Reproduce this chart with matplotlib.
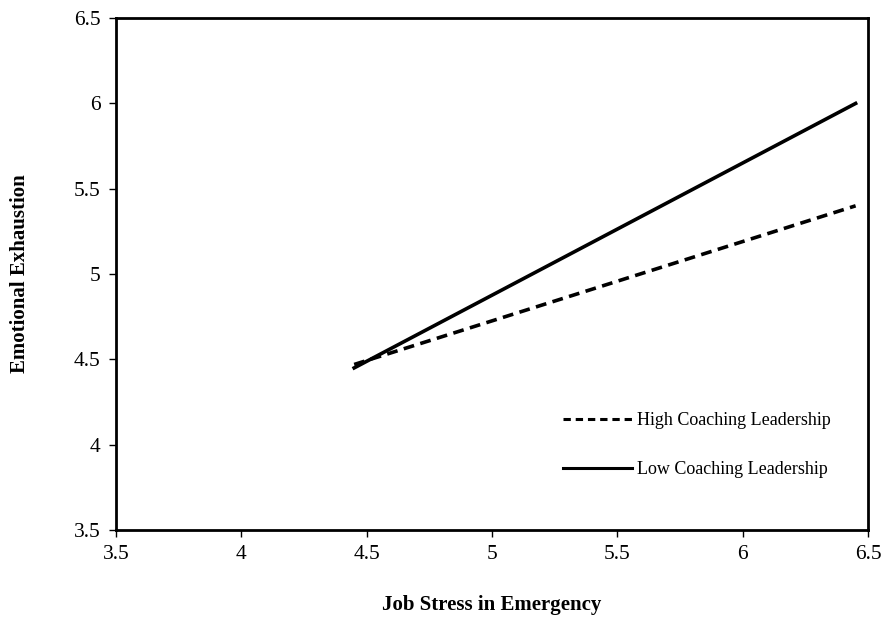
import matplotlib.pyplot as plt

plt.rcParams['font.family'] = ['Liberation Serif', 'DejaVu Serif']

x_vals = [4.45, 6.45]
high_coaching = [4.47, 5.40]
low_coaching = [4.45, 6.00]

x_ticks = [3.5, 4, 4.5, 5, 5.5, 6, 6.5]
y_ticks = [3.5, 4, 4.5, 5, 5.5, 6, 6.5]

fig = plt.figure(figsize=(8.95, 6.25), dpi=100)
ax = fig.add_axes([0.1296, 0.152, 0.8404, 0.819])

ax.plot(x_vals, high_coaching, color='black', lw=2.6, ls=(0, (3, 1.8)),
        label='High Coaching Leadership')
ax.plot(x_vals, low_coaching, color='black', lw=2.6, ls='-',
        label='Low Coaching Leadership')

ax.set_xlim(3.5, 6.5)
ax.set_ylim(3.5, 6.5)
ax.set_xticks(x_ticks)
ax.set_yticks(y_ticks)
ax.set_xticklabels([f'{t:g}' for t in x_ticks])
ax.set_yticklabels([f'{t:g}' for t in y_ticks])
ax.tick_params(direction='out', length=5, width=1, labelsize=15.5, pad=6)
for s in ax.spines.values():
    s.set_linewidth(2)

ax.set_xlabel('Job Stress in Emergency', fontsize=15, fontweight='bold', labelpad=22)
ax.set_ylabel('Emotional Exhaustion', fontsize=15, fontweight='bold', labelpad=32)

leg = ax.legend(loc='lower right', bbox_to_anchor=(0.972, 0.07), frameon=False,
                fontsize=13, handlelength=3.8, handletextpad=0.3, labelspacing=1.75)
for line in leg.get_lines():
    line.set_linewidth(2.2)
leg.get_lines()[0].set_linestyle((0, (2.4, 1.6)))

fig.savefig('out.png', dpi=100)
